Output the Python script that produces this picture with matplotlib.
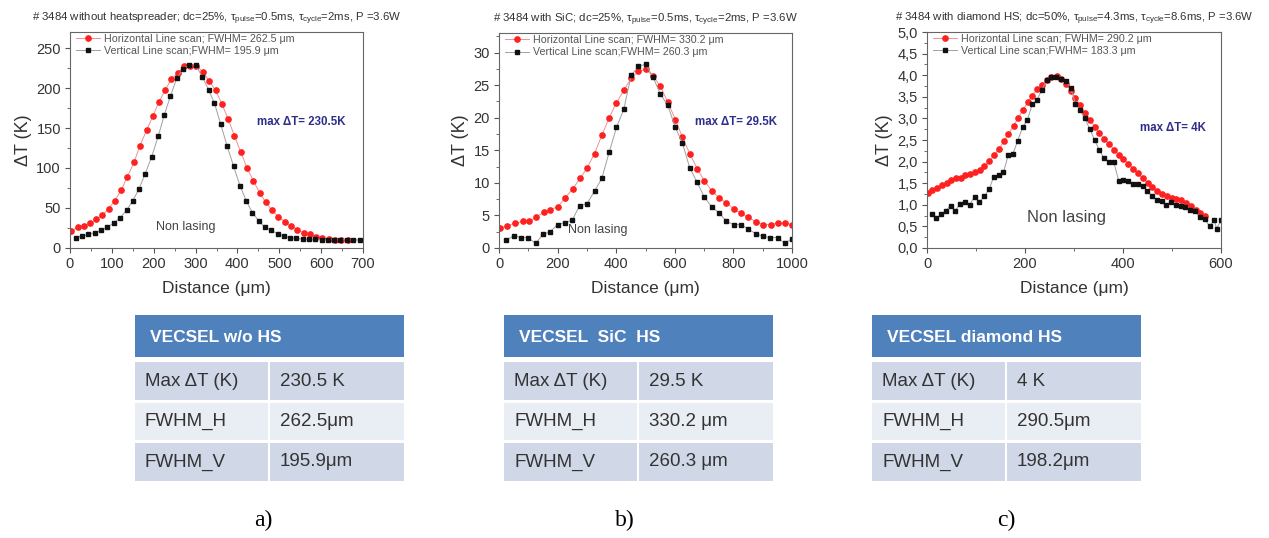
import numpy as np
import matplotlib
matplotlib.use("Agg")
import matplotlib.pyplot as plt
from matplotlib.patches import Rectangle
from matplotlib.ticker import MultipleLocator, FuncFormatter

plt.rcParams['font.family'] = ['Liberation Sans', 'DejaVu Sans']
plt.rcParams['mathtext.fontset'] = 'custom'
plt.rcParams['mathtext.rm'] = 'Liberation Sans'
plt.rcParams['mathtext.it'] = 'Liberation Sans'

# ---- panel a: without heatspreader ----
a_h_x = [2, 18, 33, 48, 63, 77, 92, 107, 123, 137, 153, 167, 183, 198, 213, 228, 242, 258,
         273, 287, 302, 318, 332, 348, 363, 378, 393, 408, 423, 438, 453, 468, 483, 498,
         513, 528, 543, 558, 573, 588, 603, 618, 633, 648, 663]
a_h_y = [21, 26, 28, 31, 36, 41, 49, 59, 73, 89, 107, 128, 147, 165, 183, 198, 211, 219,
         227, 228, 228, 220, 209, 197, 180, 161, 140, 120, 100, 84, 69, 57, 47, 39,
         33, 28, 23, 19, 17, 14, 12, 11, 10.5, 10, 10]
a_v_x = [14, 29, 44, 59, 74, 89, 104, 120, 135, 150, 165, 179, 195, 211, 225, 240, 255, 270,
         285, 300, 316, 331, 345, 360, 375, 391, 406, 421, 436, 451, 465, 481, 496, 511,
         526, 541, 556, 571, 586, 601, 616, 631, 646, 662, 677, 692]
a_v_y = [13, 15, 17, 19, 22, 26, 31, 38, 47, 59, 74, 92, 114, 140, 166, 190, 212, 224,
         229, 229, 214, 198, 181, 155, 128, 102, 78, 59, 44, 34, 26, 22, 18, 15,
         13, 12, 11, 11, 11, 10.5, 10.5, 10.5, 10.5, 10.5, 10, 10]

# ---- panel b: with SiC ----
b_h_x = [3, 28, 56, 82, 102, 127, 153, 175, 201, 226, 252, 277, 301, 326, 351, 376, 401, 426,
         452, 476, 501, 526, 551, 576, 602, 626, 651, 676, 701, 726, 751, 776, 801, 826,
         851, 877, 902, 927, 951, 977, 1000]
b_h_y = [3.0, 3.4, 3.8, 4.1, 4.1, 4.7, 5.5, 5.9, 6.3, 7.7, 9.1, 10.7, 12.3, 14.5, 17.3, 20.0,
         22.3, 24.2, 26.1, 27.1, 27.4, 26.4, 24.8, 22.4, 19.7, 17.0, 14.5, 12.2, 10.3, 8.8,
         7.7, 6.9, 6.0, 5.3, 4.7, 4.0, 3.6, 3.6, 3.8, 3.8, 3.6]
b_v_x = [25, 50, 75, 99, 125, 150, 175, 200, 225, 250, 275, 300, 326, 351, 376, 401, 426, 451,
         476, 501, 526, 551, 576, 601, 626, 651, 676, 701, 726, 751, 776, 801, 826, 851,
         876, 901, 926, 951, 976, 999]
b_v_y = [1.2, 1.9, 1.6, 1.6, 0.7, 2.1, 2.5, 3.6, 3.9, 4.3, 6.5, 6.8, 8.7, 10.7, 14.7, 18.5,
         21.3, 26.5, 27.9, 28.2, 26.2, 23.6, 21.9, 18.6, 16.1, 12.3, 10.1, 7.8, 6.3, 5.4,
         4.1, 3.6, 3.6, 2.9, 2.2, 1.8, 1.6, 1.6, 0.7, 1.4]

# ---- panel c: with diamond HS ----
c_h_x = [2, 11, 20, 30, 40, 49, 59, 69, 78, 88, 98, 108, 117, 127, 137, 147, 157, 166, 177,
         186, 196, 206, 215, 225, 235, 245, 254, 265, 274, 284, 294, 303, 313, 323, 333,
         342, 352, 362, 372, 382, 391, 401, 411, 421, 431, 440, 451, 460, 470, 480, 490,
         499, 509, 519, 529, 539, 548, 558, 568]
c_h_y = [1.27, 1.35, 1.40, 1.45, 1.50, 1.57, 1.61, 1.63, 1.69, 1.71, 1.75, 1.81, 1.90, 2.01,
         2.15, 2.30, 2.47, 2.64, 2.83, 3.01, 3.20, 3.38, 3.53, 3.67, 3.78, 3.88, 3.96, 3.99,
         3.92, 3.80, 3.64, 3.47, 3.30, 3.13, 2.97, 2.81, 2.66, 2.52, 2.40, 2.28, 2.16, 2.06,
         1.95, 1.84, 1.73, 1.61, 1.51, 1.41, 1.33, 1.26, 1.20, 1.15, 1.13, 1.10, 1.05, 0.98,
         0.89, 0.80, 0.74]
c_v_x = [10, 19, 29, 38, 48, 58, 67, 78, 87, 97, 107, 117, 127, 136, 146, 156, 166, 175, 185,
         195, 205, 215, 224, 234, 244, 254, 264, 273, 283, 293, 303, 312, 322, 332, 342,
         352, 361, 371, 381, 391, 400, 410, 420, 430, 440, 449, 459, 469, 479, 488, 498,
         508, 518, 527, 537, 547, 557, 567, 577, 586, 591, 600]
c_v_y = [0.79, 0.69, 0.78, 0.86, 0.98, 0.86, 1.03, 1.07, 1.00, 1.19, 1.06, 1.20, 1.36, 1.65,
         1.69, 1.75, 2.16, 2.17, 2.48, 2.79, 2.97, 3.33, 3.42, 3.65, 3.88, 3.95, 3.95, 3.91,
         3.87, 3.71, 3.34, 3.20, 3.00, 2.76, 2.50, 2.26, 2.08, 2.00, 2.00, 1.56, 1.57, 1.56,
         1.48, 1.48, 1.43, 1.33, 1.21, 1.10, 1.08, 1.00, 1.06, 0.99, 0.98, 0.96, 0.88, 0.85,
         0.72, 0.66, 0.50, 0.65, 0.45, 0.64]

titles = [
    r"# 3484 without heatspreader; dc=25%, $\tau_{pulse}$=0.5ms, $\tau_{cycle}$=2ms, P =3.6W",
    r"# 3484 with SiC; dc=25%, $\tau_{pulse}$=0.5ms, $\tau_{cycle}$=2ms, P =3.6W",
    r"# 3484 with diamond HS; dc=50%, $\tau_{pulse}$=4.3ms, $\tau_{cycle}$=8.6ms, P =3.6W",
]
fwhm_h = ["262.5", "330.2", "290.2"]
fwhm_v = ["195.9", "260.3", "183.3"]
max_labels = ["max \u0394T= 230.5K", "max \u0394T= 29.5K", "max \u0394T= 4K"]

# table contents
table_titles = ["VECSEL w/o HS", "VECSEL  SiC  HS", "VECSEL diamond HS"]
row_labels = ["Max \u0394T (K)", "FWHM_H", "FWHM_V"]
table_values = [["230.5 K", "262.5\u03bcm", "195.9\u03bcm"],
                ["29.5 K", "330.2 \u03bcm", "260.3 \u03bcm"],
                ["4 K", "290.5\u03bcm", "198.2\u03bcm"]]
panel_tags = ["a)", "b)", "c)"]

W, H = 1269, 538
fig = plt.figure(figsize=(W / 100, H / 100), dpi=100)


def px_axes(x0, y0, x1, y1):
    return fig.add_axes([x0 / W, 1 - y1 / H, (x1 - x0) / W, (y1 - y0) / H])


panels = [
    dict(box=(70, 32, 363, 248), h=(a_h_x, a_h_y), v=(a_v_x, a_v_y), xlim=(0, 700), ylim=(0, 270),
         xmaj=100, xmin=50, ymaj=50, ymin=25, maxpos=(447, 158), nlpos=(277, 26), nlsize=9,
         comma=False),
    dict(box=(499, 33, 792, 248), h=(b_h_x, b_h_y), v=(b_v_x, b_v_y), xlim=(0, 1000), ylim=(0, 33),
         xmaj=200, xmin=100, ymaj=5, ymin=2.5, maxpos=(668, 19.3), nlpos=(338, 2.8), nlsize=9,
         comma=False),
    dict(box=(927, 32, 1221, 248), h=(c_h_x, c_h_y), v=(c_v_x, c_v_y), xlim=(0, 600), ylim=(0, 5),
         xmaj=200, xmin=100, ymaj=0.5, ymin=0.25, maxpos=(435, 2.78), nlpos=(284, 0.70), nlsize=12,
         comma=True),
]

for i, p in enumerate(panels):
    ax = px_axes(*p["box"])
    hx, hy = p["h"]
    vx, vy = p["v"]
    ax.plot(hx, hy, color="#f29090", lw=0.7, marker="o", ms=3.8, mfc="#ff2020", mec="#ff2020",
            label=f"Horizontal Line scan; FWHM= {fwhm_h[i]} \u03bcm")
    ax.plot(vx, vy, color="#a0a0a0", lw=0.7, marker="s", ms=3.3, mfc="#111111", mec="#111111",
            label=f"Vertical Line scan;FWHM= {fwhm_v[i]} \u03bcm")
    ax.set_xlim(*p["xlim"])
    ax.set_ylim(*p["ylim"])
    ax.xaxis.set_major_locator(MultipleLocator(p["xmaj"]))
    ax.xaxis.set_minor_locator(MultipleLocator(p["xmin"]))
    ax.yaxis.set_major_locator(MultipleLocator(p["ymaj"]))
    ax.yaxis.set_minor_locator(MultipleLocator(p["ymin"]))
    if p["comma"]:
        ax.yaxis.set_major_formatter(FuncFormatter(lambda v, _: f"{v:.1f}".replace(".", ",")))
    ax.tick_params(which="major", length=3.5, width=0.8, color="#555555", labelsize=10.5,
                   labelcolor="#333333", pad=3)
    ax.tick_params(which="minor", length=2, width=0.6, color="#555555")
    for s in ax.spines.values():
        s.set_color("#666666")
        s.set_linewidth(0.8)
    ax.set_xlabel("Distance (\u03bcm)", fontsize=12.5, color="#333333", labelpad=7)
    ax.set_ylabel("\u0394T (K)", fontsize=13, color="#333333", labelpad=3)
    ax.set_title(titles[i], fontsize=8.2, color="#333333", pad=8)
    ax.legend(loc="upper left", bbox_to_anchor=(0.0, 1.02), frameon=False, fontsize=7.7,
              labelcolor="#555555", handlelength=2.2, handletextpad=0.4, borderaxespad=0.2,
              labelspacing=0.2, numpoints=1)
    ax.text(*p["maxpos"], max_labels[i], fontsize=8.3, fontweight="bold", color="#2e2e8a",
            ha="left", va="center")
    ax.text(*p["nlpos"], "Non lasing", fontsize=p["nlsize"], color="#444444",
            ha="center", va="center")

# tables and panel tags, drawn on a pixel-space overlay
ov = fig.add_axes([0, 0, 1, 1])
ov.set_xlim(0, W)
ov.set_ylim(H, 0)
ov.axis("off")

table_left = [135, 504, 872]
table_w = 269
col_split = 134
header_box = (315, 357)
row_boxes = [(362, 400), (403, 440), (443, 481)]
row_colors = ["#d0d8e8", "#e9edf4", "#d0d8e8"]
tag_x = [263, 625, 1006]
cell_font = ["Liberation Sans Narrow", "Liberation Sans", "DejaVu Sans"]

for t in range(3):
    x0 = table_left[t]
    ov.add_patch(Rectangle((x0, header_box[0]), table_w, header_box[1] - header_box[0],
                           facecolor="#4f81bd", edgecolor="none"))
    ov.text(x0 + 15, (header_box[0] + header_box[1]) / 2 + 1, table_titles[t], color="white",
            fontsize=12.5, fontweight="bold", ha="left", va="center", family=cell_font)
    for r, (y0, y1) in enumerate(row_boxes):
        ov.add_patch(Rectangle((x0, y0), col_split - 1, y1 - y0, facecolor=row_colors[r],
                               edgecolor="none"))
        ov.add_patch(Rectangle((x0 + col_split + 1, y0), table_w - col_split - 1, y1 - y0,
                               facecolor=row_colors[r], edgecolor="none"))
        ov.text(x0 + 10, (y0 + y1) / 2, row_labels[r], fontsize=13.5, color="#333333",
                ha="left", va="center", family=cell_font)
        ov.text(x0 + col_split + 11, (y0 + y1) / 2, table_values[t][r], fontsize=13.5,
                color="#333333", ha="left", va="center", family=cell_font)
    ov.text(tag_x[t], 520, panel_tags[t], fontsize=17, color="black", ha="center", va="center",
            family=["Liberation Serif", "DejaVu Serif"])

fig.savefig("out.png", dpi=100, facecolor="white")
